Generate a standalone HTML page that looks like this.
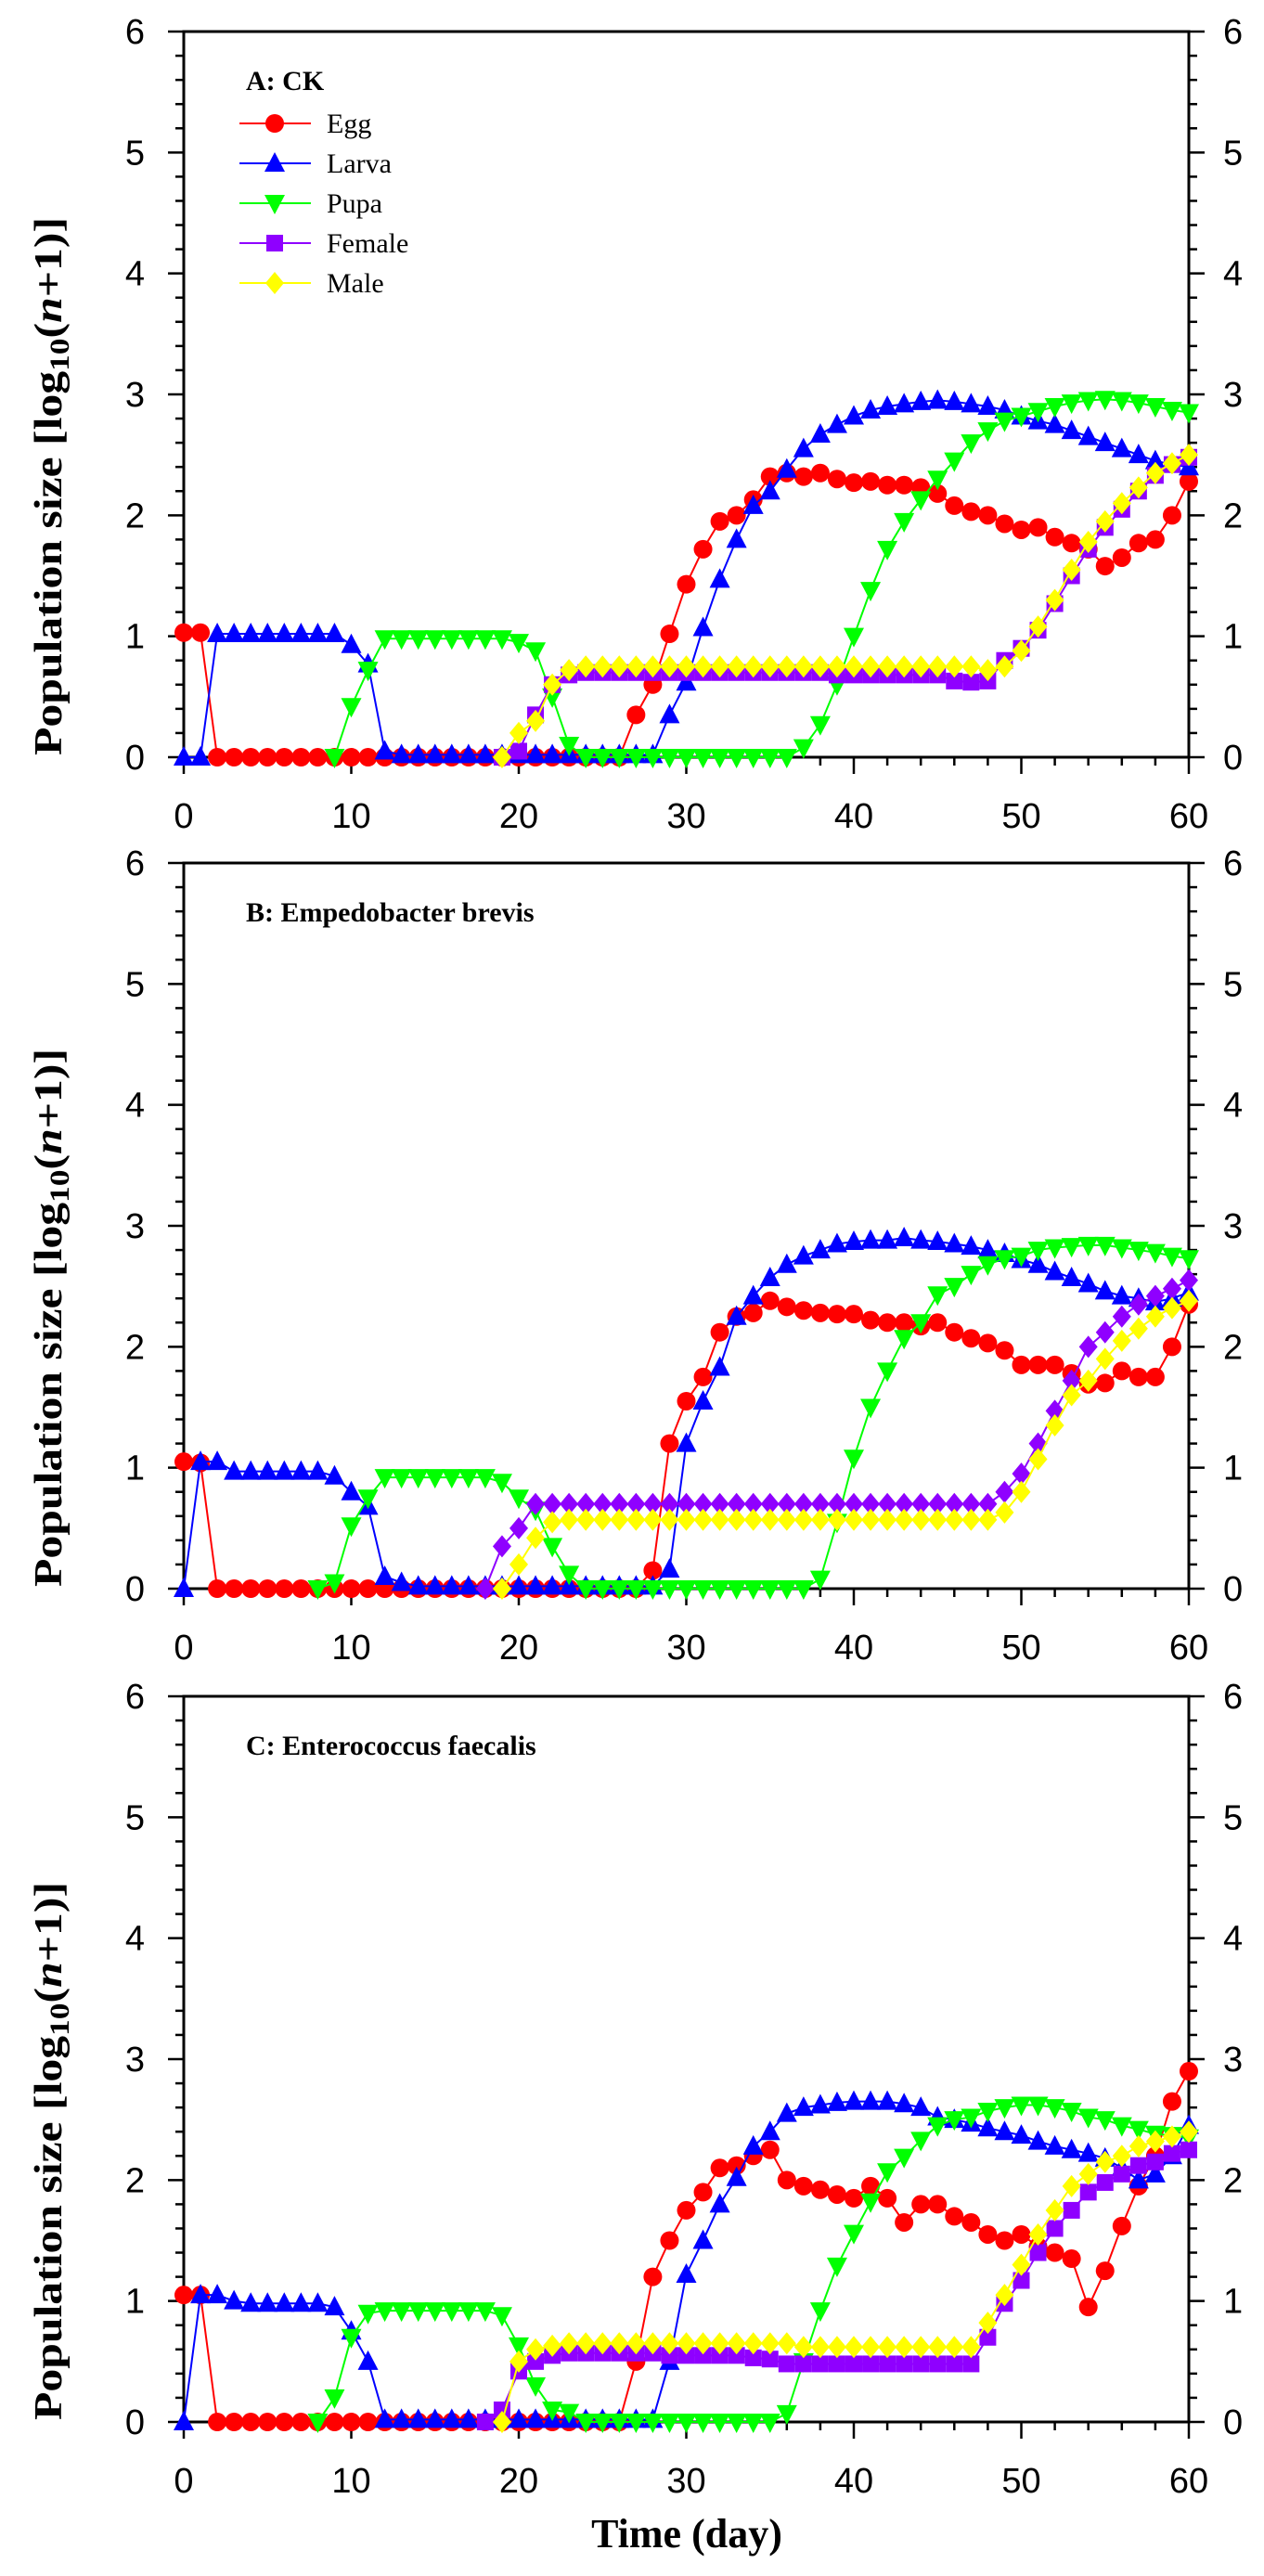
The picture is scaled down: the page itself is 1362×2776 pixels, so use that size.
<!DOCTYPE html>
<html><head><meta charset="utf-8"><style>
html,body{margin:0;padding:0;background:#fff}
svg{display:block}
</style></head><body>
<svg id="chart" width="1362" height="2776" viewBox="0 0 1362 2776" xmlns="http://www.w3.org/2000/svg"></svg>
<script>
const days = Array.from({length:61},(_,i)=>i);
const xTicks = [0,10,20,30,40,50,60];
const yTicks = [0,1,2,3,4,5,6];
const panelTitles = ["A: CK","B: Empedobacter brevis","C: Enterococcus  faecalis"];
const seriesNames = ["Egg","Larva","Pupa","Female","Male"];
const Z = (n,v)=>Array(n).fill(v);
const N = n=>Array(n).fill(null);
// Panel A
const eggA = [1.03,1.03].concat(Z(25,0),[0.35,0.6,1.02,1.43,1.72,1.95,2.0,2.13,2.32,2.35,2.32,2.35,2.3,2.27,2.28,2.25,2.25,2.23,2.18,2.08,2.03,2.0,1.93,1.88,1.9,1.82,1.77,1.72,1.58,1.65,1.77,1.8,2.0,2.28]);
const larvaA = [0,0].concat(Z(8,1.02),[0.93,0.77,0.05],Z(16,0.02),[0.35,0.62,1.07,1.47,1.8,2.08,2.2,2.38,2.55,2.67,2.75,2.82,2.87,2.9,2.92,2.94,2.95,2.94,2.92,2.9,2.87,2.82,2.78,2.75,2.7,2.65,2.6,2.55,2.5,2.45,2.42,2.4]);
const pupaA = N(9).concat([0,0.42,0.72],Z(8,0.98),[0.95,0.88,0.5,0.1],Z(13,0),[0.08,0.27,0.6,1.0,1.38,1.72,1.95,2.13,2.3,2.45,2.6,2.7,2.78,2.82,2.86,2.9,2.93,2.95,2.96,2.95,2.93,2.9,2.87,2.85]);
const femaleA = N(19).concat([0,0.05,0.35,0.6,0.68],Z(15,0.7),Z(7,0.68),[0.63,0.62,0.63,0.8,0.9,1.05,1.27,1.5,1.72,1.9,2.05,2.2,2.33,2.42,2.48]);
const maleA = N(19).concat([0,0.2,0.3,0.6,0.72],Z(24,0.75),[0.72,0.75,0.88,1.08,1.3,1.55,1.78,1.95,2.1,2.23,2.35,2.43,2.5]);
// Panel B
const eggB = [1.05,1.04].concat(Z(26,0),[0.15,1.2,1.55,1.75,2.12,2.25,2.28,2.38,2.33,2.3,2.28,2.27,2.27,2.22,2.2,2.2,2.17,2.2,2.12,2.07,2.03,1.97,1.85,1.85,1.85,1.78,1.69,1.7,1.8,1.75,1.75,2.0,2.35]);
const larvaB = [0,1.05,1.05].concat(Z(6,0.97),[0.93,0.8,0.68,0.1,0.05],Z(15,0.02),[0.16,1.2,1.55,1.83,2.25,2.42,2.57,2.68,2.75,2.8,2.85,2.87,2.88,2.88,2.9,2.88,2.87,2.85,2.83,2.8,2.77,2.72,2.68,2.62,2.57,2.52,2.46,2.42,2.4,2.37,2.4,2.45]);
const pupaB = N(8).concat([0,0.05,0.52,0.75],Z(7,0.92),[0.88,0.75,0.65,0.35,0.12],Z(14,0),[0.08,0.55,1.08,1.5,1.8,2.07,2.2,2.43,2.5,2.6,2.68,2.73,2.75,2.8,2.82,2.83,2.84,2.84,2.82,2.8,2.78,2.75,2.73]);
const femaleB = N(18).concat([0,0.35,0.5],Z(28,0.7),[0.8,0.95,1.2,1.47,1.72,2.0,2.12,2.25,2.35,2.42,2.48,2.55]);
const maleB = N(19).concat([0,0.2,0.42,0.55],Z(26,0.57),[0.63,0.8,1.07,1.35,1.6,1.72,1.9,2.05,2.15,2.25,2.32,2.38]);
// Panel C
const eggC = [1.05,1.05].concat(Z(25,0),[0.5,1.2,1.5,1.75,1.9,2.1,2.12,2.2,2.25,2.0,1.95,1.92,1.88,1.85,1.95,1.85,1.65,1.8,1.8,1.7,1.65,1.55,1.5,1.55,1.45,1.4,1.35,0.95,1.25,1.62,1.95,2.2,2.65,2.9]);
const larvaC = [0,1.05,1.05,1.0].concat(Z(5,0.98),[0.95,0.75,0.5],Z(17,0.02),[0.5,1.22,1.5,1.8,2.02,2.28,2.4,2.55,2.6,2.62,2.64,2.65,2.65,2.65,2.63,2.6,2.52,2.5,2.47,2.43,2.4,2.37,2.32,2.28,2.25,2.22,2.18,2.1,2.0,2.05,2.2,2.45]);
const pupaC = N(8).concat([0,0.2,0.7,0.9],Z(7,0.92),[0.88,0.63,0.3,0.1,0.08],Z(12,0),[0.07,0.5,0.92,1.29,1.56,1.82,2.07,2.19,2.33,2.45,2.5,2.52,2.57,2.6,2.62,2.62,2.6,2.57,2.52,2.5,2.45,2.42,2.38,2.37,2.35]);
const femaleC = N(18).concat([0,0.1,0.42,0.5,0.55],Z(6,0.57),Z(5,0.55),[0.53,0.52],Z(12,0.48),[0.7,0.98,1.17,1.4,1.6,1.75,1.9,1.98,2.05,2.12,2.15,2.22,2.25]);
const maleC = N(19).concat([0,0.5,0.6,0.63],Z(14,0.65),Z(11,0.62),[0.82,1.05,1.3,1.55,1.75,1.95,2.05,2.15,2.2,2.28,2.32,2.36,2.4]);

const panelData = [[eggA,larvaA,pupaA,femaleA,maleA],[eggB,larvaB,pupaB,femaleB,maleB],[eggC,larvaC,pupaC,femaleC,maleC]];
const colors = ["#ff0000","#0000ff","#00ff00","#8f00ff","#ffff00"];
const panelTops = [34,930,1828];
const XL=198, XR=1281, PH=782, XMAX=60, YMAX=6;

const svg=document.getElementById('chart');
const NS="http://www.w3.org/2000/svg";
function el(tag,attrs,parent){const e=document.createElementNS(NS,tag);for(const k in attrs)e.setAttribute(k,attrs[k]);(parent||svg).appendChild(e);return e;}
const sx=d=>XL+(XR-XL)*d/XMAX;

function marker(g,type,x,y,c){
  let m;
  if(type==='circle') m=el('circle',{cx:x,cy:y,r:10,fill:c},g);
  else if(type==='up') m=el('polygon',{points:`${x},${y-12} ${x-11},${y+9} ${x+11},${y+9}`,fill:c},g);
  else if(type==='down') m=el('polygon',{points:`${x},${y+12} ${x-11},${y-9} ${x+11},${y-9}`,fill:c},g);
  else if(type==='square') m=el('rect',{x:x-9,y:y-9,width:18,height:18,fill:c},g);
  else m=el('polygon',{points:`${x},${y-12} ${x-10},${y} ${x},${y+12} ${x+10},${y}`,fill:c},g);
  return m;
}

panelTops.forEach((top,p)=>{
  const bot=top+PH;
  const sy=v=>bot-(bot-top)*v/YMAX;
  const g=el('g',{});
  
  
  for(let v=0;v<=YMAX+1e-9;v+=0.2){
    const y=sy(v); const major=Math.abs(v-Math.round(v))<1e-6;
    const L=major?17:9;
    el('line',{x1:XL-L,y1:y,x2:XL,y2:y,stroke:'#000','stroke-width':2.5},g);
    el('line',{x1:XR,y1:y,x2:XR+L,y2:y,stroke:'#000','stroke-width':2.5},g);
  }
  for(let d=0;d<=XMAX;d+=2){
    const x=sx(d); const L=d%10===0?18:9;
    el('line',{x1:x,y1:bot,x2:x,y2:bot+L,stroke:'#000','stroke-width':2.5},g);
  }
  const fr=el('rect',{x:XL,y:top,width:XR-XL,height:PH,fill:'none',stroke:'#000','stroke-width':3},g);
  
  
  yTicks.forEach(v=>{
    const t1=el('text',{x:156,y:sy(v)+13,'text-anchor':'end','font-family':'Liberation Sans, sans-serif','font-size':38},g);
    t1.textContent=v;
    
    
    const t2=el('text',{x:1318,y:sy(v)+13,'text-anchor':'start','font-family':'Liberation Sans, sans-serif','font-size':38},g);
    t2.textContent=v;
    
    
  });
  xTicks.forEach(d=>{
    const t=el('text',{x:sx(d),y:bot+76,'text-anchor':'middle','font-family':'Liberation Sans, sans-serif','font-size':38},g);
    t.textContent=d;
    
    
  });
  const yt=el('text',{transform:`translate(66,${(top+bot)/2+99}) rotate(-90)`,'text-anchor':'middle','font-family':'Liberation Serif, serif','font-weight':'bold','font-size':42,textLength:580,lengthAdjust:'spacingAndGlyphs'},g);
  yt.innerHTML='Population size [log<tspan font-size="30" dy="8">10</tspan><tspan dy="-8">(</tspan><tspan font-style="italic">n</tspan>+1)]';
  
  
  const pt=el('text',{x:265,y:top+63,'font-family':'Liberation Serif, serif','font-weight':'bold','font-size':30},g);
  pt.textContent=panelTitles[p];
  
  
  const types=['circle','up','down',p===1?'diamond':'square','diamond'];
  panelData[p].forEach((vals,s)=>{
    const sg=el('g',{},g);
    
    
    const pts=[];
    vals.forEach((v,i)=>{if(v!==null)pts.push([sx(days[i]),sy(v)]);});
    const ln=el('polyline',{points:pts.map(q=>q.join(',')).join(' '),fill:'none',stroke:colors[s],'stroke-width':2},sg);
    
    
    pts.forEach(q=>{
      const m=marker(sg,types[s],q[0],q[1],colors[s]);
      
      
    });
  });
  if(p===0){
    const lg=el('g',{},g);
    
    
    seriesNames.forEach((n,s)=>{
      const y=133+s*43;
      const eg=el('g',{},lg);
      
      
      el('line',{x1:258,y1:y,x2:335,y2:y,stroke:colors[s],'stroke-width':2},eg);
      marker(eg,['circle','up','down','square','diamond'][s],296,y,colors[s]);
      const t=el('text',{x:352,y:y+10,'font-family':'Liberation Serif, serif','font-size':30},eg);
      t.textContent=n;
    });
  }
});
const xt=el('text',{x:740,y:2745,'text-anchor':'middle','font-family':'Liberation Serif, serif','font-weight':'bold','font-size':44});
xt.textContent='Time (day)';


</script>
</body></html>
